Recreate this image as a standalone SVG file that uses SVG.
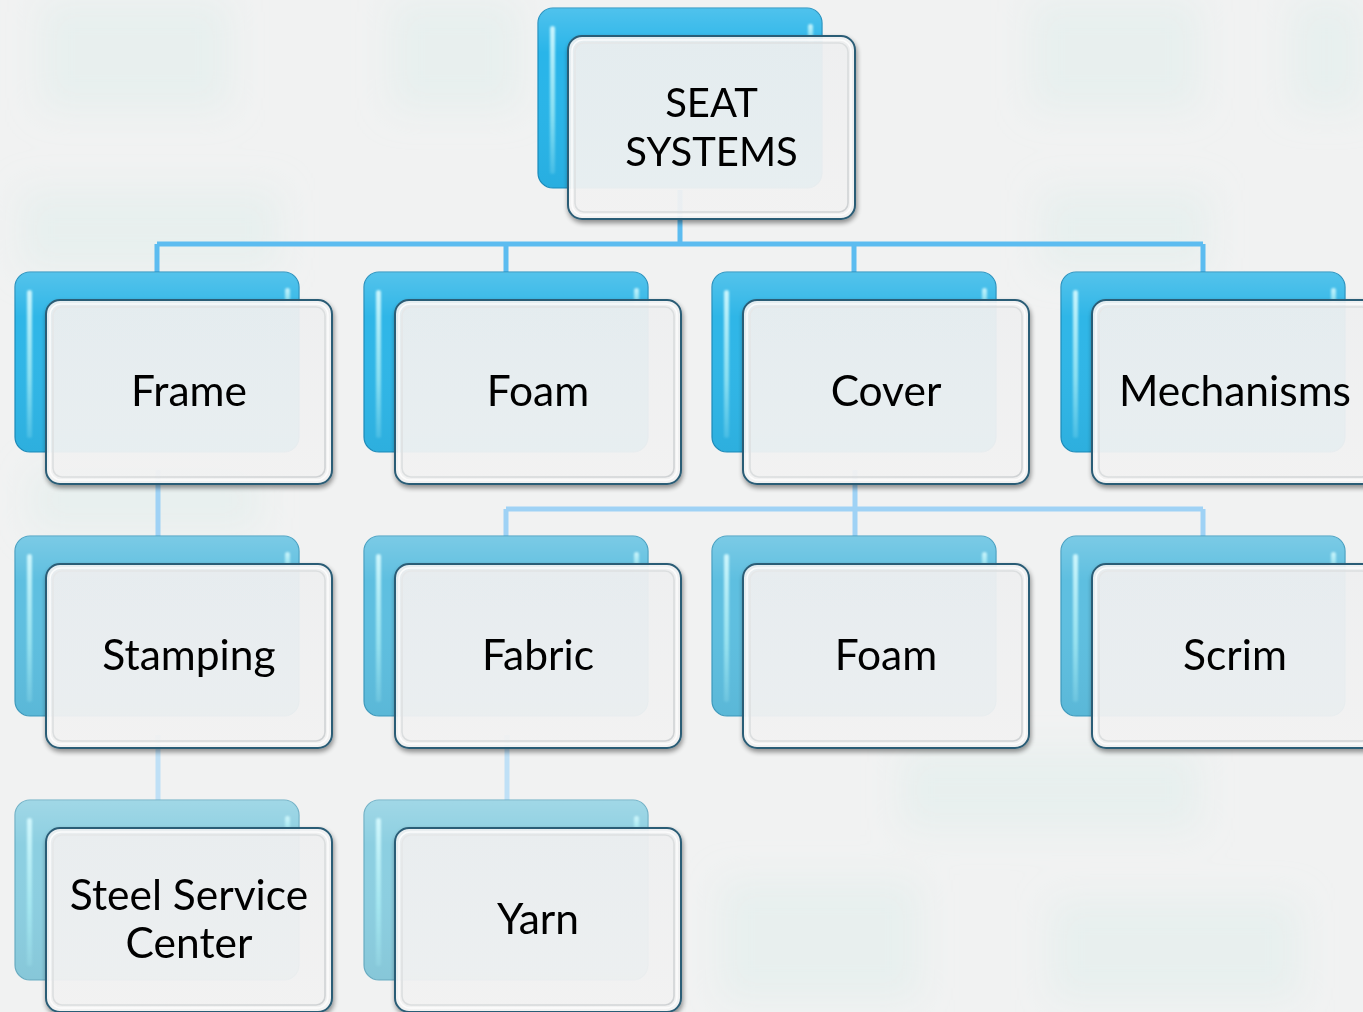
<svg xmlns="http://www.w3.org/2000/svg" width="1363" height="1012" viewBox="0 0 1363 1012">
  <defs>
    <filter id="soft" x="-20%" y="-20%" width="140%" height="140%">
      <feGaussianBlur stdDeviation="18"/>
    </filter>
    <filter id="glow" x="-50%" y="-10%" width="200%" height="120%">
      <feGaussianBlur stdDeviation="1.2"/>
    </filter>
    <filter id="shadow" x="-10%" y="-10%" width="120%" height="130%">
      <feGaussianBlur in="SourceAlpha" stdDeviation="2.5"/>
      <feOffset dx="1" dy="3" result="b"/>
      <feComponentTransfer><feFuncA type="linear" slope="0.45"/></feComponentTransfer>
      <feMerge><feMergeNode/><feMergeNode in="SourceGraphic"/></feMerge>
    </filter>
    <linearGradient id="gloss" x1="0" y1="0" x2="0" y2="1">
      <stop offset="0" stop-color="#ffffff" stop-opacity="0.18"/>
      <stop offset="0.25" stop-color="#ffffff" stop-opacity="0"/>
      <stop offset="1" stop-color="#000000" stop-opacity="0.04"/>
    </linearGradient>
    <linearGradient id="edgeHi" x1="0" y1="0" x2="0" y2="1">
      <stop offset="0" stop-color="#d8fbff" stop-opacity="0.9"/>
      <stop offset="0.6" stop-color="#aef0f6" stop-opacity="0.7"/>
      <stop offset="1" stop-color="#aef0f6" stop-opacity="0.2"/>
    </linearGradient>
    <linearGradient id="panel" x1="0" y1="0" x2="0" y2="1">
      <stop offset="0" stop-color="#f1f2f3"/>
      <stop offset="1" stop-color="#f5f5f5"/>
    </linearGradient>
    <!-- inner bevel: faint on the top-left, stronger toward bottom-right -->
    <linearGradient id="bevelStroke" x1="0" y1="0" x2="1" y2="1">
      <stop offset="0" stop-color="#e6e8e9"/>
      <stop offset="0.6" stop-color="#d9dcdd"/>
      <stop offset="1" stop-color="#cfd2d4"/>
    </linearGradient>
  </defs>
  <style>
    .bg { fill: #f1f2f2; }
    .patch { fill: #d6ebe7; opacity: 0.35; }
    .back { stroke-width: 1.2; }
    .tier0 { fill: #29b5e9; stroke: #1b8dbd; }
    .tier1 { fill: #2fb6e7; stroke: #1d8cbb; }
    .tier2 { fill: #5ebfe0; stroke: #3f9cbf; }
    .tier3 { fill: #8ccfe1; stroke: #6aaec4; }
    .hi { fill: url(#edgeHi); }
    .gl { fill: url(#gloss); }
    .front { fill: url(#panel); fill-opacity: 0.92; stroke: #2b5d76; stroke-width: 2; }
    .bevel { fill: none; stroke: url(#bevelStroke); stroke-width: 1.6; }
    .bevelHi { fill: none; stroke: #ffffff; stroke-width: 1.5; opacity: 0.8; }
    .label { font-family: Lato, "Open Sans", "Liberation Sans", sans-serif; font-size: 42.5px; fill: #000000; text-anchor: middle; }
    .root { font-size: 40px; }
    .c1 { stroke: #5cbcf0; stroke-width: 5; fill: none; }
    .c2 { stroke: #9fd2f5; stroke-width: 5; fill: none; }
    .c3 { stroke: #bfe0f6; stroke-width: 5; fill: none; }
  </style>

  <!-- backdrop with faint tinted tiles -->
  <rect class="bg" x="0" y="0" width="1363" height="1012"/>
  <g filter="url(#soft)">
    <rect class="patch" x="40" y="0" width="190" height="110"/>
    <rect class="patch" x="390" y="0" width="130" height="110"/>
    <rect class="patch" x="1030" y="0" width="170" height="110"/>
    <rect class="patch" x="1290" y="0" width="73" height="110"/>
    <rect class="patch" x="20" y="190" width="260" height="80"/>
    <rect class="patch" x="1040" y="190" width="170" height="80"/>
    <rect class="patch" x="30" y="470" width="230" height="60"/>
    <rect class="patch" x="900" y="750" width="300" height="80"/>
    <rect class="patch" x="720" y="880" width="200" height="120"/>
    <rect class="patch" x="1050" y="900" width="250" height="100"/>
  </g>

  <!-- connectors -->
  <g id="connectors">
    <path class="c1" d="M680,190 V244 M157,244 H1203 M157,244 V274 M506,244 V274 M854,244 V274 M1203,244 V274"/>
    <path class="c2" d="M855,470 V509 M506,509 H1203 M506,509 V538 M855,509 V538 M1203,509 V538"/>
    <path class="c2" d="M158,470 V538"/>
    <path class="c3" d="M158,735 V802 M507,735 V802"/>
  </g>

  <!-- root -->
  <g id="node-seat-systems">
    <rect class="back tier0" x="538" y="8" width="284" height="180" rx="15"/>
    <rect class="gl" x="538" y="8" width="284" height="180" rx="15"/>
    <rect class="hi" x="550" y="26" width="5" height="148" rx="2.5" filter="url(#glow)"/>
    <rect class="hi" x="808" y="24" width="5" height="20" rx="2.5" filter="url(#glow)"/>
    <g filter="url(#shadow)">
      <rect class="front" x="568" y="36" width="287" height="183" rx="14"/>
    </g>
    <rect class="bevel" x="575" y="43" width="273" height="169" rx="9"/>
    <rect class="bevelHi" x="572" y="40" width="279" height="175" rx="11"/>
    <text class="label root" x="711.5" y="117">SEAT</text>
    <text class="label root" x="711.5" y="166">SYSTEMS</text>
  </g>

  <!-- first tier -->
  <g id="node-frame">
    <rect class="back tier1" x="15" y="272" width="284" height="180" rx="15"/>
    <rect class="gl" x="15" y="272" width="284" height="180" rx="15"/>
    <rect class="hi" x="27" y="290" width="5" height="148" rx="2.5" filter="url(#glow)"/>
    <rect class="hi" x="285" y="288" width="5" height="20" rx="2.5" filter="url(#glow)"/>
    <g filter="url(#shadow)"><rect class="front" x="46" y="300" width="286" height="184" rx="14"/></g>
    <rect class="bevel" x="53" y="307" width="272" height="170" rx="9"/>
    <rect class="bevelHi" x="50" y="304" width="278" height="176" rx="11"/>
    <text class="label" x="189" y="406">Frame</text>
  </g>
  <g id="node-foam-1">
    <rect class="back tier1" x="364" y="272" width="284" height="180" rx="15"/>
    <rect class="gl" x="364" y="272" width="284" height="180" rx="15"/>
    <rect class="hi" x="376" y="290" width="5" height="148" rx="2.5" filter="url(#glow)"/>
    <rect class="hi" x="634" y="288" width="5" height="20" rx="2.5" filter="url(#glow)"/>
    <g filter="url(#shadow)"><rect class="front" x="395" y="300" width="286" height="184" rx="14"/></g>
    <rect class="bevel" x="402" y="307" width="272" height="170" rx="9"/>
    <rect class="bevelHi" x="399" y="304" width="278" height="176" rx="11"/>
    <text class="label" x="538" y="406">Foam</text>
  </g>
  <g id="node-cover">
    <rect class="back tier1" x="712" y="272" width="284" height="180" rx="15"/>
    <rect class="gl" x="712" y="272" width="284" height="180" rx="15"/>
    <rect class="hi" x="724" y="290" width="5" height="148" rx="2.5" filter="url(#glow)"/>
    <rect class="hi" x="982" y="288" width="5" height="20" rx="2.5" filter="url(#glow)"/>
    <g filter="url(#shadow)"><rect class="front" x="743" y="300" width="286" height="184" rx="14"/></g>
    <rect class="bevel" x="750" y="307" width="272" height="170" rx="9"/>
    <rect class="bevelHi" x="747" y="304" width="278" height="176" rx="11"/>
    <text class="label" x="886" y="406">Cover</text>
  </g>
  <g id="node-mechanisms">
    <rect class="back tier1" x="1061" y="272" width="284" height="180" rx="15"/>
    <rect class="gl" x="1061" y="272" width="284" height="180" rx="15"/>
    <rect class="hi" x="1073" y="290" width="5" height="148" rx="2.5" filter="url(#glow)"/>
    <rect class="hi" x="1331" y="288" width="5" height="20" rx="2.5" filter="url(#glow)"/>
    <g filter="url(#shadow)"><rect class="front" x="1092" y="300" width="286" height="184" rx="14"/></g>
    <rect class="bevel" x="1099" y="307" width="272" height="170" rx="9"/>
    <rect class="bevelHi" x="1096" y="304" width="278" height="176" rx="11"/>
    <text class="label" x="1235" y="406">Mechanisms</text>
  </g>

  <!-- second tier -->
  <g id="node-stamping">
    <rect class="back tier2" x="15" y="536" width="284" height="180" rx="15"/>
    <rect class="gl" x="15" y="536" width="284" height="180" rx="15"/>
    <rect class="hi" x="27" y="554" width="5" height="148" rx="2.5" filter="url(#glow)"/>
    <rect class="hi" x="285" y="552" width="5" height="20" rx="2.5" filter="url(#glow)"/>
    <g filter="url(#shadow)"><rect class="front" x="46" y="564" width="286" height="184" rx="14"/></g>
    <rect class="bevel" x="53" y="571" width="272" height="170" rx="9"/>
    <rect class="bevelHi" x="50" y="568" width="278" height="176" rx="11"/>
    <text class="label" x="189" y="670">Stamping</text>
  </g>
  <g id="node-fabric">
    <rect class="back tier2" x="364" y="536" width="284" height="180" rx="15"/>
    <rect class="gl" x="364" y="536" width="284" height="180" rx="15"/>
    <rect class="hi" x="376" y="554" width="5" height="148" rx="2.5" filter="url(#glow)"/>
    <rect class="hi" x="634" y="552" width="5" height="20" rx="2.5" filter="url(#glow)"/>
    <g filter="url(#shadow)"><rect class="front" x="395" y="564" width="286" height="184" rx="14"/></g>
    <rect class="bevel" x="402" y="571" width="272" height="170" rx="9"/>
    <rect class="bevelHi" x="399" y="568" width="278" height="176" rx="11"/>
    <text class="label" x="538" y="670">Fabric</text>
  </g>
  <g id="node-foam-2">
    <rect class="back tier2" x="712" y="536" width="284" height="180" rx="15"/>
    <rect class="gl" x="712" y="536" width="284" height="180" rx="15"/>
    <rect class="hi" x="724" y="554" width="5" height="148" rx="2.5" filter="url(#glow)"/>
    <rect class="hi" x="982" y="552" width="5" height="20" rx="2.5" filter="url(#glow)"/>
    <g filter="url(#shadow)"><rect class="front" x="743" y="564" width="286" height="184" rx="14"/></g>
    <rect class="bevel" x="750" y="571" width="272" height="170" rx="9"/>
    <rect class="bevelHi" x="747" y="568" width="278" height="176" rx="11"/>
    <text class="label" x="886" y="670">Foam</text>
  </g>
  <g id="node-scrim">
    <rect class="back tier2" x="1061" y="536" width="284" height="180" rx="15"/>
    <rect class="gl" x="1061" y="536" width="284" height="180" rx="15"/>
    <rect class="hi" x="1073" y="554" width="5" height="148" rx="2.5" filter="url(#glow)"/>
    <rect class="hi" x="1331" y="552" width="5" height="20" rx="2.5" filter="url(#glow)"/>
    <g filter="url(#shadow)"><rect class="front" x="1092" y="564" width="286" height="184" rx="14"/></g>
    <rect class="bevel" x="1099" y="571" width="272" height="170" rx="9"/>
    <rect class="bevelHi" x="1096" y="568" width="278" height="176" rx="11"/>
    <text class="label" x="1235" y="670">Scrim</text>
  </g>

  <!-- third tier -->
  <g id="node-steel-service-center">
    <rect class="back tier3" x="15" y="800" width="284" height="180" rx="15"/>
    <rect class="gl" x="15" y="800" width="284" height="180" rx="15"/>
    <rect class="hi" x="27" y="818" width="5" height="148" rx="2.5" filter="url(#glow)"/>
    <rect class="hi" x="285" y="816" width="5" height="20" rx="2.5" filter="url(#glow)"/>
    <g filter="url(#shadow)"><rect class="front" x="46" y="828" width="286" height="184" rx="14"/></g>
    <rect class="bevel" x="53" y="835" width="272" height="170" rx="9"/>
    <rect class="bevelHi" x="50" y="832" width="278" height="176" rx="11"/>
    <text class="label" x="189" y="910">Steel Service</text>
    <text class="label" x="189" y="958">Center</text>
  </g>
  <g id="node-yarn">
    <rect class="back tier3" x="364" y="800" width="284" height="180" rx="15"/>
    <rect class="gl" x="364" y="800" width="284" height="180" rx="15"/>
    <rect class="hi" x="376" y="818" width="5" height="148" rx="2.5" filter="url(#glow)"/>
    <rect class="hi" x="634" y="816" width="5" height="20" rx="2.5" filter="url(#glow)"/>
    <g filter="url(#shadow)"><rect class="front" x="395" y="828" width="286" height="184" rx="14"/></g>
    <rect class="bevel" x="402" y="835" width="272" height="170" rx="9"/>
    <rect class="bevelHi" x="399" y="832" width="278" height="176" rx="11"/>
    <text class="label" x="538" y="934">Yarn</text>
  </g>
</svg>
